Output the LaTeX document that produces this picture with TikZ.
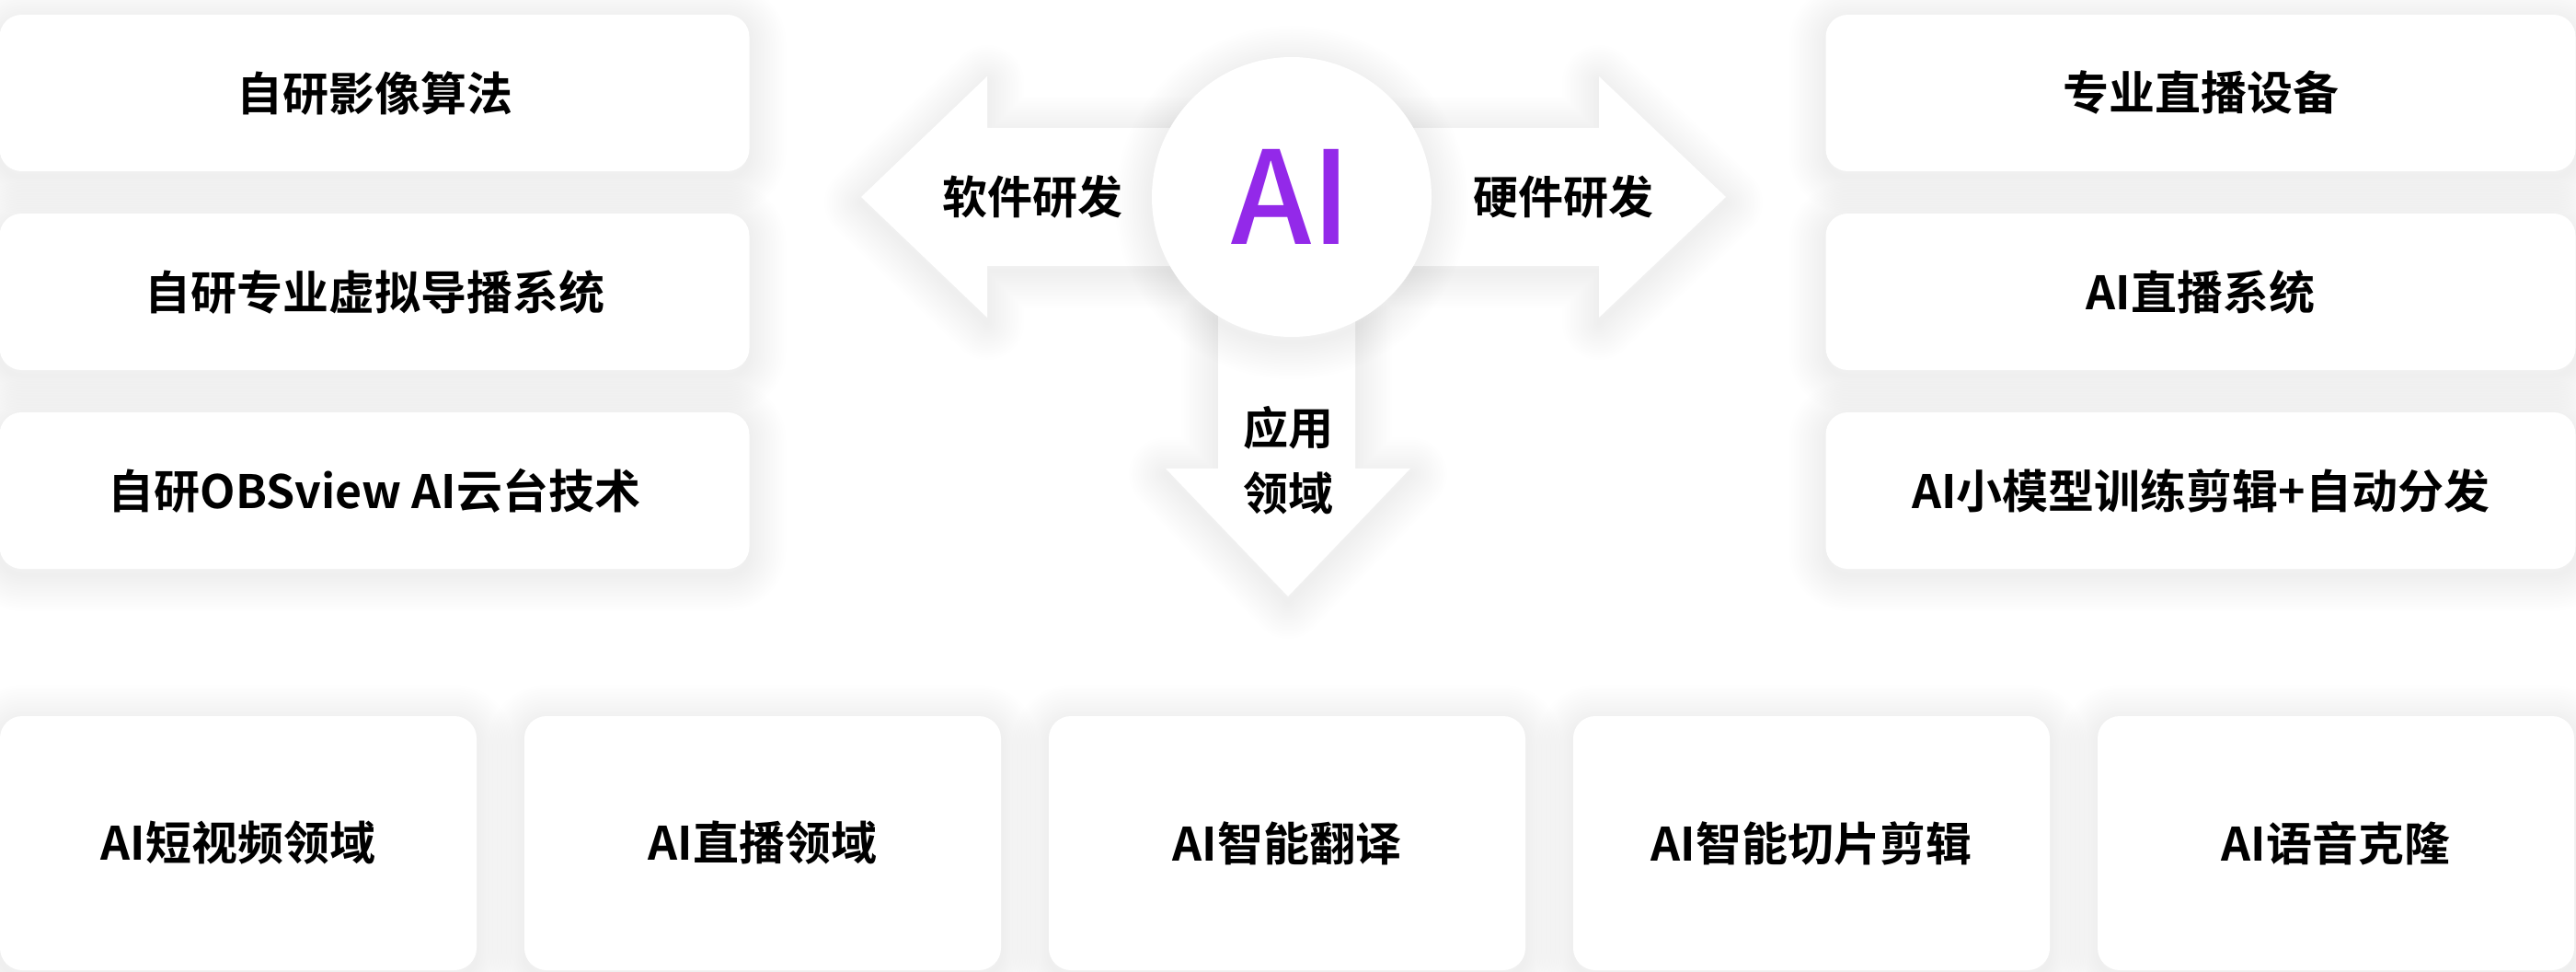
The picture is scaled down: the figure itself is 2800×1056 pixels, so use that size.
\documentclass[tikz,border=0pt]{standalone}
\usepackage{fontspec}
\setmainfont{Noto Sans CJK SC}[BoldFont={Noto Sans CJK SC Bold}]
\newfontfamily\aifont{Noto Sans CJK SC Medium}
\definecolor{aipurple}{HTML}{9329E9}
\tikzset{
  halo/.style={preaction={draw=black,draw opacity=0.0055,line width=#1,line join=round,transform canvas={yshift=-6pt}}},
  soft shadow/.style={halo=5pt,halo=10pt,halo=15pt,halo=20pt,halo=25pt,halo=30pt,halo=35pt,halo=40pt,
                      halo=45pt,halo=50pt,halo=55pt,halo=60pt,halo=65pt,halo=70pt,halo=75pt,halo=80pt},
  card/.style={fill=white,rounded corners=24pt,inner sep=0pt,soft shadow},
  cardtext/.style={font=\bfseries\fontsize{50}{60}\selectfont},
  armtext/.style={font=\bfseries\fontsize{49}{71}\selectfont,align=center,inner sep=0pt},
}
\begin{document}
\begin{tikzpicture}[x=1pt,y=-1pt]
	\clip (0,0) rectangle (2800,1056);
	\fill[white] (0,0) rectangle (2800,1056);

	% software side
	\node[card,cardtext,minimum width=815pt,minimum height=170pt] (sw1) at (407,101) {自研影像算法};
	\node[card,cardtext,minimum width=815pt,minimum height=170pt] (sw2) at (407,317) {自研专业虚拟导播系统};
	\node[card,cardtext,minimum width=815pt,minimum height=170pt] (sw3) at (407,533) {自研OBSview AI云台技术};

	% hardware side
	\node[card,cardtext,minimum width=815pt,minimum height=170pt] (hw1) at (2392,101) {专业直播设备};
	\node[card,cardtext,minimum width=815pt,minimum height=170pt] (hw2) at (2392,317) {AI直播系统};
	\node[card,cardtext,minimum width=815pt,minimum height=170pt] (hw3) at (2392,533) {AI小模型训练剪辑+自动分发};

	% fields
	\foreach \x/\name/\txt in {259/f1/AI短视频领域,829/f2/AI直播领域,1399/f3/AI智能翻译,1969/f4/AI智能切片剪辑,2539/f5/AI语音克隆}{
		\node[card,cardtext,minimum width=518pt,minimum height=276pt] (\name) at (\x,916) {\txt};
	}

	% three arrows out of the centre
	\fill[white,soft shadow]
		(1404,139) -- (1073,139) -- (1073,83) -- (936,214) -- (1073,345) -- (1073,289) -- (1404,289) -- cycle
		(1404,139) -- (1738,139) -- (1738,83) -- (1876,214) -- (1738,345) -- (1738,289) -- (1404,289) -- cycle
		(1324,214) -- (1324,509) -- (1267,509) -- (1400,648) -- (1533,509) -- (1473,509) -- (1473,214) -- cycle;

	\node[armtext] (soft) at (1122,214) {软件研发};
	\node[armtext] (hard) at (1699,214) {硬件研发};
	\node[armtext] (apply) at (1400,500) {应用\\领域};

	\node[circle,fill=white,minimum size=304pt,inner sep=0pt,soft shadow,text=aipurple,font=\aifont\fontsize{140}{140}\selectfont] (ai) at (1404,214) {AI};
\end{tikzpicture}
\end{document}
